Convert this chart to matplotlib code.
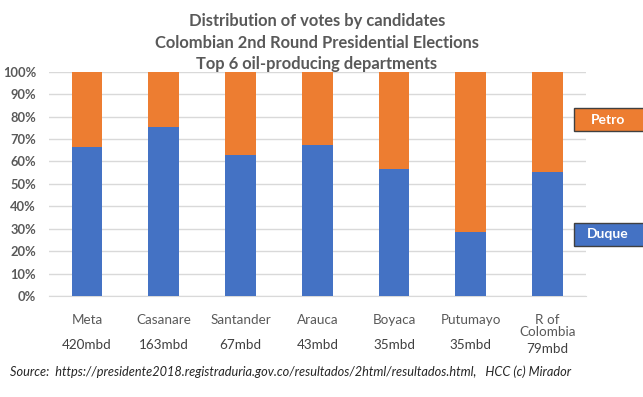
import matplotlib
matplotlib.use("Agg")
import matplotlib.pyplot as plt
import numpy as np

departments = ["Meta", "Casanare", "Santander", "Arauca", "Boyaca", "Putumayo", "R of\nColombia"]
production = ["420mbd", "163mbd", "67mbd", "43mbd", "35mbd", "35mbd", "79mbd"]
duque = [66.6, 75.5, 62.9, 67.3, 56.6, 28.5, 55.3]
petro = [100 - d for d in duque]
yticks = [0, 10, 20, 30, 40, 50, 60, 70, 80, 90, 100]

plt.rcParams['font.family'] = ['Lato', 'DejaVu Sans']
grey = '#595959'
blue = '#4472c4'
orange = '#ed7d31'

fig = plt.figure(figsize=(6.43, 3.97), dpi=100)
ax = fig.add_axes([48.6/643, 1 - 296/397, (586 - 48.6)/643, (296 - 71.7)/397])

x = np.arange(len(departments))
ax.bar(x, duque, width=0.4, color=blue, zorder=3)
ax.bar(x, petro, bottom=duque, width=0.4, color=orange, zorder=3)

ax.set_xlim(-0.5, len(departments) - 0.5)
ax.set_ylim(0, 100)
ax.set_yticks(yticks)
ax.set_yticklabels([f"{t}%" for t in yticks], fontsize=9.3, fontweight='bold', color=grey)
ax.yaxis.grid(True, color='#d9d9d9', linewidth=1, zorder=0)
ax.tick_params(axis='both', length=0)
ax.tick_params(axis='y', pad=9)
for s in ['top', 'right', 'left']:
    ax.spines[s].set_visible(False)
ax.spines['bottom'].set_color('#d9d9d9')

ax.set_xticks(x)
ax.set_xticklabels(departments, fontsize=9.7, color=grey, linespacing=0.95)
ax.tick_params(axis='x', pad=13)
for i, p in enumerate(production):
    dy = 53 if i == len(production) - 1 else 49
    ax.annotate(p, xy=(i, 0), xycoords='data', xytext=(0, -dy), textcoords='offset pixels',
                ha='center', va='center', fontsize=9.7, color='#404040')

fig.text(317/643, 1 - 21/397, "Distribution of votes by candidates", ha='center', va='center',
         fontsize=11.9, fontweight='bold', color=grey)
fig.text(317/643, 1 - 43/397, "Colombian 2nd Round Presidential Elections", ha='center', va='center',
         fontsize=11.9, fontweight='bold', color=grey)
fig.text(317/643, 1 - 64/397, "Top 6 oil-producing departments", ha='center', va='center',
         fontsize=11.9, fontweight='bold', color=grey)

fig.text(10/643, 1 - 372/397,
         "Source:  https://presidente2018.registraduria.gov.co/resultados/2html/resultados.html,   HCC (c) Mirador",
         ha='left', va='center', fontsize=9.2, style='italic', color='#262626')

# legend boxes
for label, color, ytop in [("Petro", orange, 108), ("Duque", blue, 223)]:
    rect = plt.Rectangle((574/643, 1 - (ytop + 23)/397), 80/643, 23/397, transform=fig.transFigure,
                         facecolor=color, edgecolor='#404040', linewidth=1, clip_on=False)
    fig.add_artist(rect)
    fig.text(608/643, 1 - (ytop + 11.5)/397, label, ha='center', va='center', fontsize=10,
             fontweight='bold', color='white')

fig.savefig("out.png", dpi=100)
